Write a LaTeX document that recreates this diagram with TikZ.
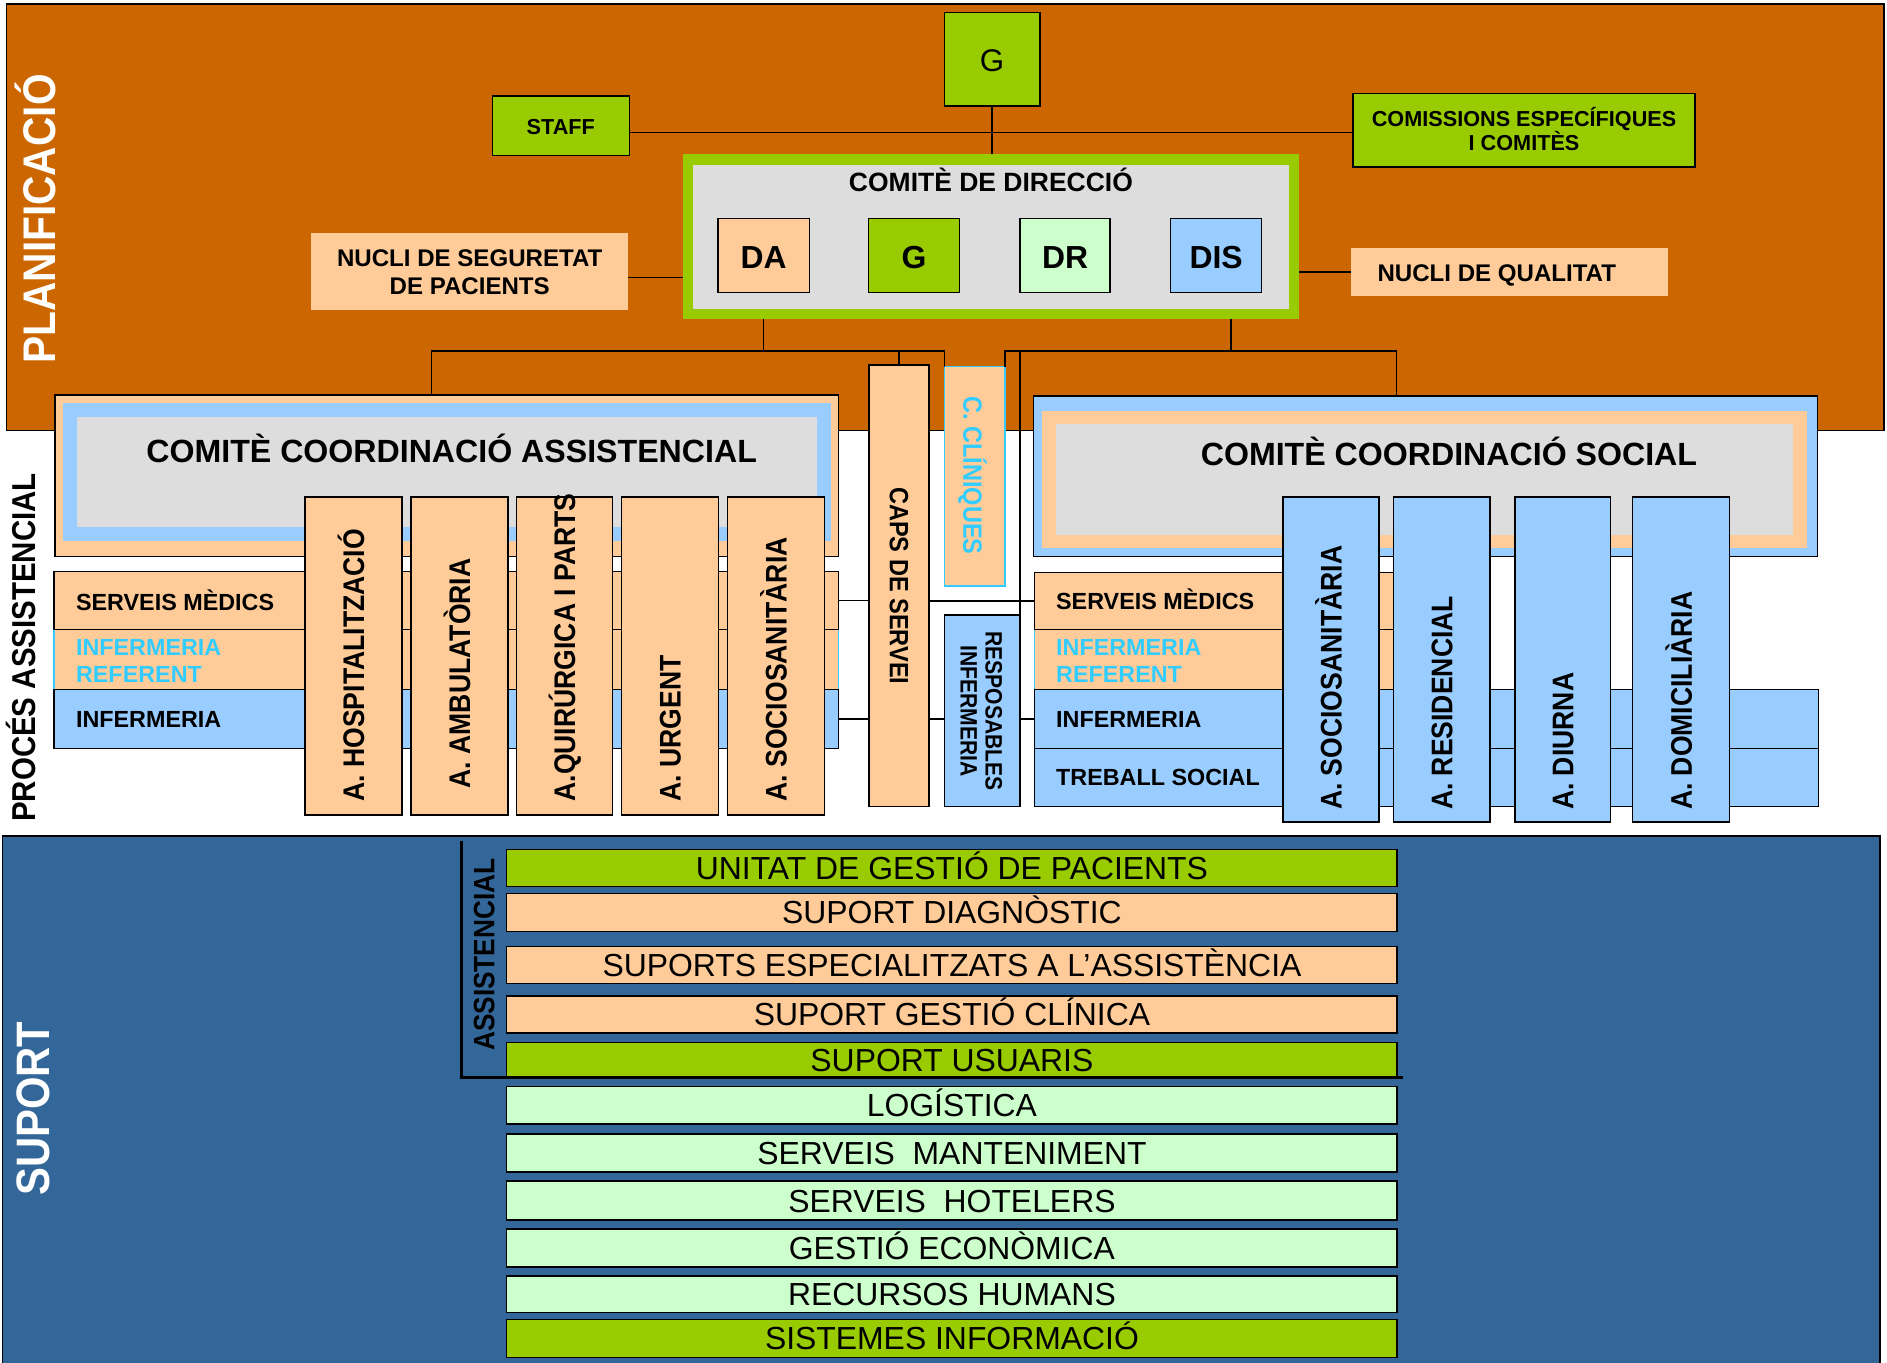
\documentclass[tikz,border=0pt]{standalone}
\usepackage{fontspec}
\setmainfont{Liberation Sans}
\newfontfamily\vf[FakeStretch=0.89]{Liberation Sans}
\usetikzlibrary{fit}
\definecolor{orng}{HTML}{CC6600}
\definecolor{grn}{HTML}{99CC00}
\definecolor{pch}{HTML}{FFCC99}
\definecolor{lgrn}{HTML}{CCFFCC}
\definecolor{lblu}{HTML}{99CCFF}
\definecolor{gry}{HTML}{DDDDDD}
\definecolor{cyn}{HTML}{33CCFF}
\definecolor{sblu}{HTML}{336699}
\newcommand\fsz[1]{\fontsize{#1}{#1}\selectfont}
\begin{document}
\begin{tikzpicture}[x=1pt,y=-1pt,
  bx/.style={draw=black, line width=1.2pt, inner sep=0pt, outer sep=0pt},
  pl/.style={draw=none, inner sep=0pt, outer sep=0pt},
  ln/.style={draw=black, line width=1.2pt},
  lbl/.style={inner sep=0pt, outer sep=0pt, anchor=base, font=\bfseries\fsz{#1}},
  lblw/.style={inner sep=0pt, outer sep=0pt, anchor=base west, font=\bfseries\fsz{#1}},
  vt/.style={inner sep=0pt, outer sep=0pt, rotate=90, anchor=base west, font=\vf\bfseries\fsz{#1}},
  vc/.style={inner sep=0pt, outer sep=0pt, rotate=90, anchor=base, font=\vf\bfseries\fsz{#1}},
  vd/.style={inner sep=0pt, outer sep=0pt, rotate=-90, anchor=base, font=\vf\bfseries\fsz{#1}},
  bar/.style={bx, line width=1.4pt},
  bartxt/.style={inner sep=0pt, outer sep=0pt, anchor=base, font=\fsz{26.5}}]
\useasboundingbox (0,0) rectangle (1568,1132);
\clip (0,0) rectangle (1568,1132);
\fill[white] (0,0) rectangle (1568,1132);

% ---------- PLANIFICACIO ----------
\node[bx, fill=orng, fit={(5.5,3.5)(1565.5,357.5)}] (plan) {};
\node[vc=38, text=white] (plantxt) at (46.4,182) {PLANIFICACIÓ};

\node[bx, fill=grn, fit={(784.7,10.3)(864,88)}] (gtop) {};
\node[inner sep=0pt, anchor=base, font=\fsz{26}] at (824.3,59) {G};

\node[bx, fill=grn, fit={(409.2,79.8)(523,129)}] (staff) {};
\node[lbl=18] at (466,111.6) {STAFF};

\node[bx, fill=grn, fit={(1124.3,77.8)(1408.5,138.8)}] (comis) {};
\node[lbl=18] at (1266.4,105.3) {COMISSIONS ESPECÍFIQUES};
\node[lbl=18] at (1266.4,125.2) {I COMITÈS};

\node[pl, fill=grn, fit={(567.6,128.2)(1079.7,265)}] (cd) {};
\node[pl, fill=gry, fit={(576.2,137)(1071,256.8)}] (cdin) {};
\node[lbl=22] at (823.4,159.3) {COMITÈ DE DIRECCIÓ};

\node[bx, fill=pch, fit={(596.6,181.4)(672.6,243.2)}] (da) {};
\node[bx, fill=grn, fit={(721.7,181.4)(797.2,243.2)}] (gg) {};
\node[bx, fill=lgrn, fit={(847.6,181.4)(922.4,243.2)}] (dr) {};
\node[bx, fill=lblu, fit={(972.8,181.4)(1048.3,243.2)}] (dis) {};
\node[lbl=26.5] at (634.6,223) {DA};
\node[lbl=26.5] at (759.5,223) {G};
\node[lbl=26.5] at (885,223) {DR};
\node[lbl=26.5] at (1010.5,223) {DIS};

\node[pl, fill=pch, fit={(258.6,193.9)(522,257.6)}] (nseg) {};
\node[lbl=20] at (390.3,221.6) {NUCLI DE SEGURETAT};
\node[lbl=20] at (390.3,245.1) {DE PACIENTS};

\node[pl, fill=pch, fit={(1123,206.4)(1386,245.7)}] (nqual) {};
\node[lblw=20] at (1144.7,234) {NUCLI DE QUALITAT};

% top connectors
\coordinate (hl) at (824,110.2);
\coordinate (hs) at (540,230.5);
\draw[ln] (gtop.south) -- (gtop.south |- cd.north);
\draw[ln] (staff.east |- hl) -- (comis.west |- hl);
\draw[ln] (nseg.east |- hs) -- (cd.west |- hs);
\draw[ln] (cd.east |- nqual.west) -- (nqual.west);

% ---------- PROCES ASSISTENCIAL ----------
\node[vc=27.5] (proctxt) at (29.1,538) {PROCÉS ASSISTENCIAL};

% Comite coordinacio assistencial
\node[bx, fill=pch, fit={(45.7,328.2)(696.6,462.6)}] (cca) {};
\node[pl, fill=lblu, fit={(52.6,335.2)(690.2,449.6)}] (ccab) {};
\node[pl, fill=gry, fit={(63.7,346.2)(678.6,438.2)}] (ccag) {};
\node[lbl=26.7] at (375.3,384.5) {COMITÈ COORDINACIÓ ASSISTENCIAL};

% Comite coordinacio social
\node[bx, fill=lblu, fit={(858.7,329)(1510,462.6)}] (ccs) {};
\node[pl, fill=pch, fit={(865.7,341.5)(1501.6,455)}] (ccsb) {};
\node[pl, fill=gry, fit={(877.6,352.5)(1489.5,444.6)}] (ccsg) {};
\node[lbl=26.7] at (1204,386.4) {COMITÈ COORDINACIÓ SOCIAL};

% left rows
\node[pl, draw=cyn, line width=1.2pt, fill=pch, fit={(44.9,523)(696.6,572.8)}] (lref) {};
\node[bx, fill=pch, fit={(44.9,475)(696.6,523)}] (lsm) {};
\node[bx, fill=lblu, fit={(44.9,572.8)(696.6,621.8)}] (linf) {};
\node[lblw=19.4] at (63.2,507) {SERVEIS MÈDICS};
\node[lblw=19.4, text=cyn] at (63.2,544.3) {INFERMERIA};
\node[lblw=19.4, text=cyn] at (63.2,567.3) {REFERENT};
\node[lblw=19.4] at (63.2,604.7) {INFERMERIA};

% right rows
\node[pl, draw=cyn, line width=1.2pt, fill=pch, fit={(859.5,523)(1190,572.8)}] (rref) {};
\node[bx, fill=pch, fit={(859.5,475.6)(1190,523)}] (rsm) {};
\node[bx, fill=lblu, fit={(859.5,572.8)(1511,621.8)}] (rinf) {};
\node[bx, fill=lblu, fit={(859.5,621.8)(1511,670.3)}] (rts) {};
\node[lblw=19.4] at (877.6,506.5) {SERVEIS MÈDICS};
\node[lblw=19.4, text=cyn] at (877.6,544.3) {INFERMERIA};
\node[lblw=19.4, text=cyn] at (877.6,567.3) {REFERENT};
\node[lblw=19.4] at (877.6,604.7) {INFERMERIA};
\node[lblw=19.4] at (877.6,653) {TREBALL SOCIAL};

% left columns
\node[bx, fill=pch, fit={(253.5,413)(334,677.3)}] (c1) {};
\node[bx, fill=pch, fit={(341.5,413)(422,677.3)}] (c2) {};
\node[bx, fill=pch, fit={(429,413)(509,677.3)}] (c3) {};
\node[bx, fill=pch, fit={(516.5,413)(597,677.3)}] (c4) {};
\node[bx, fill=pch, fit={(604.5,413)(685,677.3)}] (c5) {};
\node[vt=24.8] at (302.6,666) {A. HOSPITALITZACIÓ};
\node[vt=24.8] at (390.6,655) {A. AMBULATÒRIA};
\node[vt=24.8] at (477.9,666) {A.QUIRÚRGICA I PARTS};
\node[vt=24.8] at (565.6,666) {A. URGENT};
\node[vt=24.8] at (653.6,666) {A. SOCIOSANITÀRIA};

% right columns
\node[bx, fill=lblu, fit={(1066,413)(1146,683)}] (d1) {};
\node[bx, fill=lblu, fit={(1158,413)(1238,683)}] (d2) {};
\node[bx, fill=lblu, fit={(1258.7,413)(1338.4,683)}] (d3) {};
\node[bx, fill=lblu, fit={(1356.5,413)(1437.3,683)}] (d4) {};
\node[vt=24.8] at (1114.9,673) {A. SOCIOSANITÀRIA};
\node[vt=24.8] at (1206.9,673) {A. RESIDENCIAL};
\node[vt=24.8] at (1307.4,673) {A. DIURNA};
\node[vt=24.8] at (1405.8,673) {A. DOMICILIÀRIA};

% middle boxes
\node[bx, fill=pch, fit={(722.1,303.3)(772,670.3)}] (caps) {};
\node[vd=22] at (739.5,486.8) {CAPS DE SERVEI};
\node[pl, draw=cyn, line width=1.2pt, fill=pch, fit={(784.7,304.7)(835,487)}] (cclin) {};
\node[vd=22, text=cyn] at (800.5,395) {C. CLÍNIQUES};
\node[bx, fill=lblu, fit={(784.7,511)(847.6,670.3)}] (resp) {};
\node[vd=19.7] at (819,590.8) {RESPOSABLES};
\node[vd=19.7] at (798.3,590.8) {INFERMERIA};

% tree connectors
\coordinate (tL) at (358.7,291.7);
\coordinate (tR) at (1160.4,291.7);
\coordinate (dR) at (1022.7,265);
\draw[ln] (da.south |- cd.south) -- (da.south |- tL);
\draw[ln] (tL |- cca.north) -- (tL) -- (cclin.north west |- tL) -- (cclin.north west);
\draw[ln] (caps.north |- tL) -- (caps.north);
\draw[ln] (dR |- cd.south) -- (dR |- tR);
\draw[ln] (cclin.north east) -- (cclin.north east |- tR) -- (tR) -- (tR |- ccs.north);
\draw[ln] (resp.north east |- tR) -- (resp.north east);

% row connectors
\draw[ln] (lsm.east) -- (caps.west |- lsm.east);
\draw[ln] (caps.east |- rsm.west) -- (rsm.west);
\draw[ln] (linf.east) -- (caps.west |- linf.east);
\draw[ln] (caps.east |- linf.east) -- (resp.west |- linf.east);
\draw[ln] (resp.east |- rinf.west) -- (rinf.west);

% ---------- SUPORT ----------
\node[bx, fill=sblu, fit={(2,694.5)(1562,1140)}] (sup) {};
\node[vc=39, text=white] (suptxt) at (41.3,921.3) {SUPORT};
\node[vc=24.5] (asstxt) at (410.8,793.3) {ASSISTENCIAL};
\coordinate (brt) at (383.5,699);
\coordinate (brc) at (383.5,895.5);
\coordinate (bre) at (1166,895.5);
\draw[line width=2.5pt] (brt) -- (brc) -- (bre);

\foreach \t/\b/\c/\s [count=\i] in {
  706/736.7/grn/UNITAT DE GESTIÓ DE PACIENTS,
  742.5/774/pch/SUPORT DIAGNÒSTIC,
  786.4/817.1/pch/SUPORTS ESPECIALITZATS A L’ASSISTÈNCIA,
  827.4/858.2/pch/SUPORT GESTIÓ CLÍNICA,
  866.2/895.5/grn/SUPORT USUARIS,
  902.7/934.2/lgrn/LOGÍSTICA,
  942.3/973.9/lgrn/SERVEIS\ \ MANTENIMENT,
  981.6/1014/lgrn/SERVEIS\ \ HOTELERS,
  1021.2/1052.8/lgrn/GESTIÓ ECONÒMICA,
  1060/1090.7/lgrn/RECURSOS HUMANS,
  1096.5/1128/grn/SISTEMES INFORMACIÓ}{
  \node[bar, fill=\c, fit={(421,\t)(1161,\b)}] (bar\i) {};
  \node[bartxt] at (791,{(\t+\b)/2+9.5}) {\s};
}
\draw[line width=2.5pt] (brc) -- (bre);
\end{tikzpicture}
\end{document}
